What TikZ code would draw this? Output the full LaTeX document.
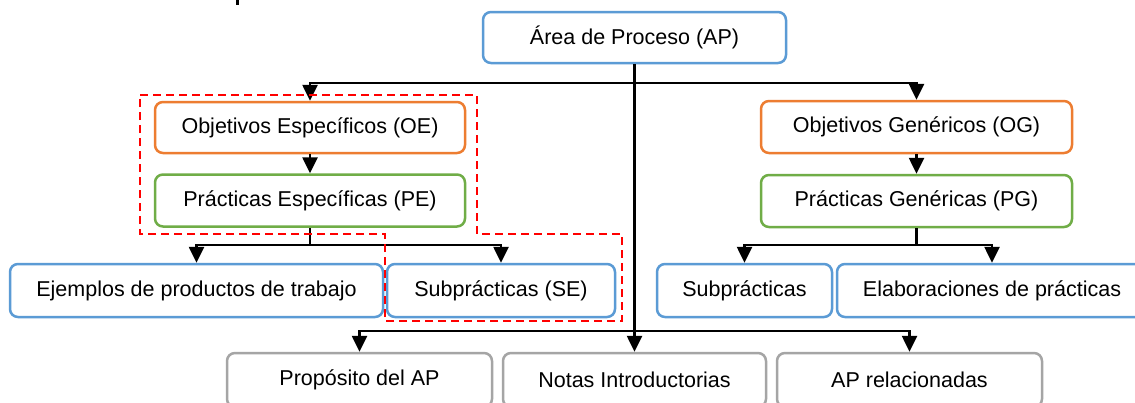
\documentclass[tikz,border=0pt]{standalone}
\usepackage{fontspec}
\setmainfont{Liberation Sans}
\usetikzlibrary{arrows.meta}

\definecolor{boxblue}{HTML}{5B9BD5}
\definecolor{boxorange}{HTML}{ED7D31}
\definecolor{boxgreen}{HTML}{70AD47}
\definecolor{boxgray}{HTML}{A5A5A5}
\definecolor{markred}{HTML}{FF0000}

\tikzset{
  card/.style={draw, fill=white, rounded corners=8pt, line width=2.5pt,
    inner sep=0pt, align=center,
    font=\fontsize{21.5}{25}\selectfont},
  bluecard/.style={card, draw=boxblue},
  orangecard/.style={card, draw=boxorange},
  greencard/.style={card, draw=boxgreen},
  graycard/.style={card, draw=boxgray},
  link/.style={draw=black, line width=2.6pt, line join=miter},
  arrowlink/.style={link, -{Triangle[width=15pt,length=16pt]}},
  scopebox/.style={draw=markred, line width=2.2pt, dash pattern=on 8pt off 5pt}
}

\begin{document}
\begin{tikzpicture}[x=1pt,y=-1pt]
  \clip (0,0) rectangle (1135,402);
  \fill[white] (0,0) rectangle (1135,402);

  % descender of the caption line above the chart
  \fill (236,0) rectangle (238.5,4.5);

  % top level
  \node[bluecard, minimum width=303pt, minimum height=51pt] (ap) at (634.5,37.5) {Área de Proceso (AP)};

  % specific branch
  \node[orangecard, minimum width=310pt, minimum height=51pt] (oe) at (310,127.5) {Objetivos Específicos (OE)};
  \node[greencard, minimum width=310pt, minimum height=52pt] (pe) at (310,200.5) {Prácticas Específicas (PE)};
  \node[bluecard, minimum width=373pt, minimum height=53pt] (ej) at (196.5,290.5) {Ejemplos de productos de trabajo};
  \node[bluecard, minimum width=228pt, minimum height=53pt] (se) at (501,290.5) {Subprácticas (SE)};

  % generic branch
  \node[orangecard, minimum width=311pt, minimum height=52pt] (og) at (916.5,127) {Objetivos Genéricos (OG)};
  \node[greencard, minimum width=311pt, minimum height=52pt] (pg) at (916.5,201) {Prácticas Genéricas (PG)};
  \node[bluecard, minimum width=175pt, minimum height=53pt] (sp) at (744.5,290.5) {Subprácticas};
  \node[bluecard, minimum width=310pt, minimum height=53pt] (el) at (992,290.5) {Elaboraciones de prácticas};

  % informative components
  \node[graycard, minimum width=265pt, minimum height=54pt] (prop) at (359.5,380) {Propósito del AP};
  \node[graycard, minimum width=263pt, minimum height=54pt] (notas) at (634.5,380) {Notas Introductorias};
  \node[graycard, minimum width=265pt, minimum height=54pt] (aprel) at (909.5,380) {AP relacionadas};

  % connectors
  \coordinate (topbus) at (634.5,83);
  \coordinate (pebus) at (310,245);
  \coordinate (pgbus) at (916.5,245);
  \coordinate (lowbus) at (634.5,331);

  \draw[arrowlink] (ap.south) -- (notas.north);
  \draw[arrowlink] (topbus) -| (oe.north);
  \draw[arrowlink] (topbus) -| (og.north);
  \draw[arrowlink] (oe.south) -- (pe.north);
  \draw[arrowlink] (og.south) -- (pg.north);

  \draw[link] (pe.south) -- (pebus);
  \draw[arrowlink] (pebus) -| (ej.north);
  \draw[arrowlink] (pebus) -| (se.north);

  \draw[link] (pg.south) -- (pgbus);
  \draw[arrowlink] (pgbus) -| (sp.north);
  \draw[arrowlink] (pgbus) -| (el.north);

  \draw[arrowlink] (lowbus) -| (prop.north);
  \draw[arrowlink] (lowbus) -| (aprel.north);

  % dashed outline around the specific goals and practices
  \draw[scopebox] (140,95) -- (477,95) -- (477,234) -- (622,234) -- (622,321)
    -- (385,321) -- (385,234) -- (140,234) -- cycle;
\end{tikzpicture}
\end{document}
